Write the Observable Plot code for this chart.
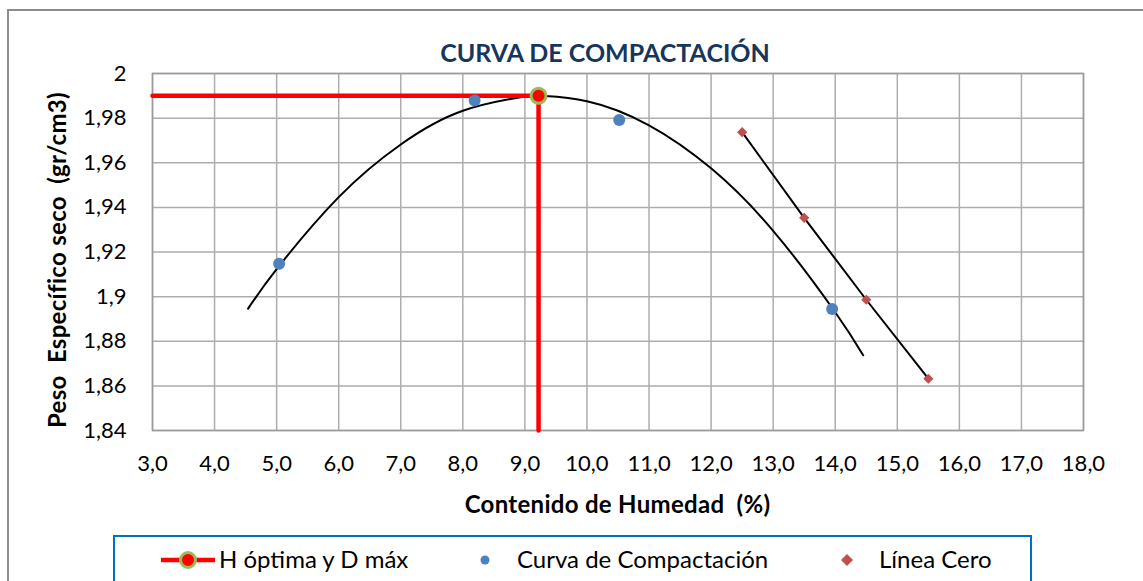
<!DOCTYPE html>
<html>
<head>
<meta charset="utf-8">
<script src="https://cdn.jsdelivr.net/npm/d3@7"></script>
<script src="https://cdn.jsdelivr.net/npm/@observablehq/plot@0.6"></script>
<style>
  html, body { margin: 0; padding: 0; background: #fff; }
  body { width: 1143px; height: 581px; overflow: hidden; position: relative; font-family: Lato, "Open Sans", sans-serif; }
  #frame { position: absolute; left: 7px; top: 9px; width: 1200px; height: 700px; border-left: 2px solid #8c8c8c; border-top: 2px solid #8c8c8c; box-sizing: border-box; }
  #chart { position: absolute; left: 0; top: 0; }
  #title { position: absolute; left: 0; width: 1210px; top: 40px; text-align: center; font-size: 25px; line-height: 25px; font-weight: bold; color: #17365D; }
  #xtitle { position: absolute; left: 0; width: 1235px; top: 492px; text-align: center; font-size: 24px; line-height: 24px; font-weight: bold; color: #000; white-space: pre; letter-spacing: 0.3px; }
  #ytitle { position: absolute; left: -143px; width: 400px; top: 248px; height: 24px; text-align: center; font-size: 24px; line-height: 24px; font-weight: bold; color: #000; white-space: pre; letter-spacing: 0.3px; transform: rotate(-90deg); transform-origin: 200px 12px; }
  #legend { position: absolute; left: 113px; top: 535px; width: 919px; height: 80px; border: 2px solid #0070C0; box-sizing: border-box; background: #fff; }
  .lg { position: absolute; top: 547px; font-size: 24px; line-height: 24px; color: #000; white-space: pre; }
  .sw { position: absolute; }
</style>
</head>
<body>
<div id="frame"></div>
<div id="chart"></div>
<div id="title"></div>
<div id="xtitle"></div>
<div id="ytitle"></div>
<div id="legend"></div>
<script>
// ---- data ----
const xTicks = [3, 4, 5, 6, 7, 8, 9, 10, 11, 12, 13, 14, 15, 16, 17, 18];
const xTickLabels = ["3,0","4,0","5,0","6,0","7,0","8,0","9,0","10,0","11,0","12,0","13,0","14,0","15,0","16,0","17,0","18,0"];
const yTicks = [1.84, 1.86, 1.88, 1.9, 1.92, 1.94, 1.96, 1.98, 2];
const yTickLabels = ["1,84","1,86","1,88","1,9","1,92","1,94","1,96","1,98","2"];

// Curva de Compactación (measured points)
const compX = [5.04, 8.19, 10.52, 13.95];
const compY = [1.9147, 1.9879, 1.9792, 1.8945];

// Polynomial trendline of the compaction curve
const trendX = [4.54, 5, 6, 7, 8, 9, 9.25, 10, 11, 12, 13, 14, 14.45];
const trendY = [1.8946, 1.9123, 1.9446, 1.9682, 1.9833, 1.9897, 1.99, 1.9876, 1.9768, 1.9575, 1.9295, 1.893, 1.8737];

// Línea Cero (zero air voids)
const zeroX = [12.5, 13.5, 14.5, 15.5];
const zeroY = [1.9737, 1.9353, 1.8986, 1.8632];

// H óptima y D máx
const optHumidity = 9.22;
const optDensity = 1.99;
const optLineX = [3, 9.22, 9.22];
const optLineY = [1.99, 1.99, 1.84];

const chartTitle = "CURVA DE COMPACTACIÓN";
const xTitle = "Contenido de Humedad  (%)";
const yTitle = "Peso  Específico seco  (gr/cm3)";
const legendLabels = ["H óptima y D máx", "Curva de Compactación", "Línea Cero"];

// ---- build tables ----
const comp = compX.map((x, i) => ({x, y: compY[i]}));
const trend = trendX.map((x, i) => ({x, y: trendY[i]}));
const zero = zeroX.map((x, i) => ({x, y: zeroY[i]}));
const optLine = optLineX.map((x, i) => ({x, y: optLineY[i]}));
const optPoint = [{x: optHumidity, y: optDensity}];

const xFmt = d => xTickLabels[xTicks.indexOf(d)];
const yFmt = d => yTickLabels[yTicks.indexOf(d)];

const gridColor = "#ADADAD";

const chart = Plot.plot({
  width: 1143,
  height: 581,
  marginLeft: 152,
  marginRight: 60,
  marginTop: 73,
  marginBottom: 151,
  style: {fontFamily: "Lato, 'Open Sans', sans-serif", fontSize: "22px", color: "#000", background: "transparent", overflow: "visible"},
  x: {domain: [3, 18], label: null},
  y: {domain: [1.84, 2], label: null},
  marks: [
    Plot.gridX(xTicks, {stroke: gridColor, strokeOpacity: 1, strokeWidth: 1.5}),
    Plot.gridY(yTicks, {stroke: gridColor, strokeOpacity: 1, strokeWidth: 1.5}),
    Plot.frame({stroke: "#9a9a9a", strokeWidth: 1.5}),
    Plot.axisX(xTicks, {tickSize: 0, tickPadding: 25, tickFormat: xFmt, label: null, fontSize: 22}),
    Plot.axisY(yTicks, {tickSize: 0, tickPadding: 26, tickFormat: yFmt, label: null, fontSize: 22}),
    Plot.line(trend, {x: "x", y: "y", curve: "natural", stroke: "#000", strokeWidth: 2}),
    Plot.line(zero, {x: "x", y: "y", stroke: "#000", strokeWidth: 2}),
    Plot.line(optLine, {x: "x", y: "y", stroke: "#FF0000", strokeWidth: 4.5}),
    Plot.dot(comp, {x: "x", y: "y", r: 6, fill: "#4F81BD"}),
    Plot.dot(zero, {x: "x", y: "y", symbol: "diamond2", r: 4.6, fill: "#C0504D"}),
    Plot.dot(optPoint, {x: "x", y: "y", r: 7.5, fill: "#FF0000", stroke: "#9BBB59", strokeWidth: 3})
  ]
});
document.getElementById("chart").appendChild(chart);
document.getElementById("title").textContent = chartTitle;
document.getElementById("xtitle").textContent = xTitle;
document.getElementById("ytitle").textContent = yTitle;

// ---- legend ----
const body = document.body;
function addSwatch(svgContent, left, top, w, h) {
  const s = document.createElementNS("http://www.w3.org/2000/svg", "svg");
  s.setAttribute("width", w); s.setAttribute("height", h);
  s.setAttribute("class", "sw");
  s.style.left = left + "px"; s.style.top = top + "px";
  s.innerHTML = svgContent;
  body.appendChild(s);
}
function addLabel(text, left) {
  const d = document.createElement("div");
  d.className = "lg"; d.textContent = text; d.style.left = left + "px";
  body.appendChild(d);
}
addSwatch('<line x1="0" y1="12" x2="54" y2="12" stroke="#FF0000" stroke-width="4.5"/><circle cx="27" cy="12" r="7.5" fill="#FF0000" stroke="#9BBB59" stroke-width="3"/>', 161, 548, 56, 24);
addLabel(legendLabels[0], 219);
addSwatch('<circle cx="12" cy="12" r="4.5" fill="#4F81BD"/>', 473, 548, 24, 24);
addLabel(legendLabels[1], 517);
addSwatch('<path d="M12,6 L18,12 L12,18 L6,12 Z" fill="#C0504D"/>', 835, 548, 24, 24);
addLabel(legendLabels[2], 879);
</script>
</body>
</html>
